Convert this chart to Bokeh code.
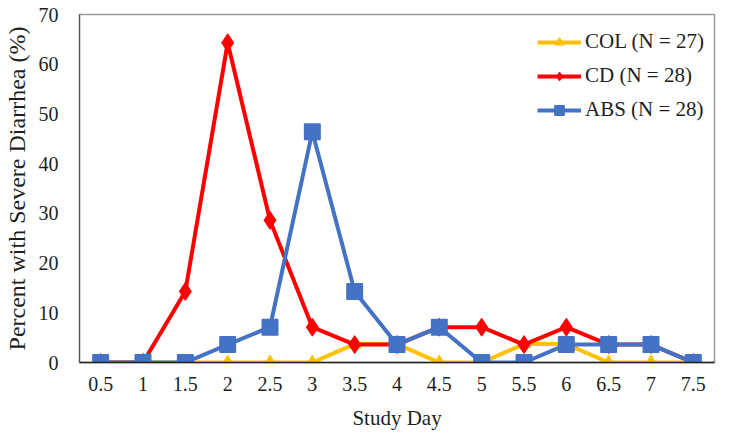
from bokeh.plotting import figure
from bokeh.embed import file_html
from bokeh.resources import INLINE
from bokeh.models import Range1d, FixedTicker, Legend, LegendItem

days = ["0.5", "1", "1.5", "2", "2.5", "3", "3.5", "4", "4.5", "5", "5.5", "6", "6.5", "7", "7.5"]
col = [0, 0, 0, 0, 0, 0, 3.7, 3.7, 0, 0, 3.7, 3.7, 0, 0, 0]
cd = [0, 0, 14.3, 64.3, 28.6, 7.1, 3.6, 3.6, 7.1, 7.1, 3.6, 7.1, 3.6, 3.6, 0]
abs_ = [0, 0, 0, 3.6, 7.1, 46.4, 14.3, 3.6, 7.1, 0, 0, 3.6, 3.6, 3.6, 0]
y_ticks = [0, 10, 20, 30, 40, 50, 60, 70]

FONT = "Liberation Serif"
TXT = "#1e1e1e"

p = figure(x_range=days, y_range=Range1d(0, 70), width=716, height=432,
           output_backend="svg", toolbar_location=None,
           min_border_left=69, min_border_top=14, min_border_right=2, min_border_bottom=60)

p.xgrid.grid_line_color = None
p.ygrid.grid_line_color = None
p.outline_line_color = "#9a9a9a"
p.outline_line_width = 1.5

l1 = p.line(days, col, line_color="#FFC000", line_width=4)
s1 = p.scatter(days, col, marker="triangle", size=13, fill_color="#FFC000", line_color="#FFC000")
l2 = p.line(days, cd, line_color="#FF0000", line_width=4)
s2 = p.scatter(days, cd, marker="diamond", size=18, fill_color="#FF0000", line_color="#FF0000")
l3 = p.line(days, abs_, line_color="#4472C4", line_width=4)
s3 = p.scatter(days, abs_, marker="square", size=15, fill_color="#4472C4", line_color="#4472C4",
               line_join="round", line_width=2)

legend = Legend(items=[
    LegendItem(label="COL (N = 27)", renderers=[l1, s1]),
    LegendItem(label="CD (N = 28)", renderers=[l2, s2]),
    LegendItem(label="ABS (N = 28)", renderers=[l3, s3]),
], location=(458, 240))
legend.border_line_color = None
legend.background_fill_alpha = 0
legend.label_text_font = FONT
legend.label_text_font_size = "21px"
legend.label_text_color = TXT
legend.glyph_width = 44
legend.glyph_height = 22
legend.label_height = 22
legend.label_standoff = 4
legend.spacing = 9
legend.padding = 0
p.add_layout(legend)

p.yaxis.ticker = FixedTicker(ticks=y_ticks)
for ax in (p.xaxis[0], p.yaxis[0]):
    ax.major_tick_line_color = None
    ax.minor_tick_line_color = None
    ax.major_label_text_font = FONT
    ax.major_label_text_font_size = "20px"
    ax.major_label_text_color = TXT
    ax.axis_label_text_font = FONT
    ax.axis_label_text_font_style = "normal"
    ax.axis_label_text_color = TXT

p.xaxis.axis_label_text_font_size = "21px"
p.yaxis.axis_label_text_font_size = "24px"
p.xaxis.axis_line_color = "#222222"
p.xaxis.axis_line_width = 1.5
p.yaxis.axis_line_color = "#555555"
p.yaxis.axis_line_width = 1.2
p.xaxis.major_label_standoff = 8
p.yaxis.major_label_standoff = 15
p.xaxis.axis_label = "Study Day"
p.yaxis.axis_label = "Percent with Severe Diarrhea (%)"
p.xaxis.axis_label_standoff = 12
p.yaxis.axis_label_standoff = 6

open("out.html", "w").write(file_html(p, INLINE))
